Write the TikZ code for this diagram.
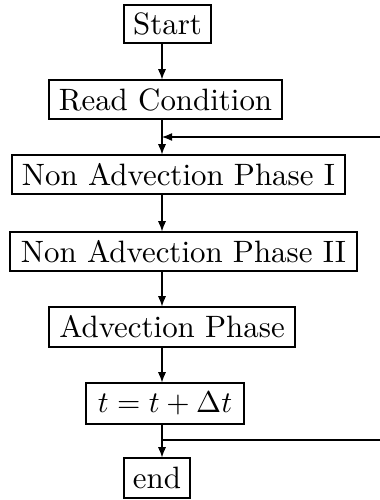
\documentclass[tikz,border=0pt]{standalone}
\usetikzlibrary{arrows.meta}
\newdimen\px \px=0.33333pt
\begin{document}
\begin{tikzpicture}[x=0.33333pt,y=-0.33333pt,
  box/.style={draw,inner sep=0pt,line width=0.38pt,font=\fontsize{10.3}{12}\selectfont},
  arr/.style={-{Latex[length=3.4pt,width=2.7pt]},line width=0.38pt},
  ln/.style={line width=0.38pt}]
\useasboundingbox (0,0) rectangle (380,500);
\coordinate (sx) at (162,0);
\node[box,minimum width=87\px,minimum height=38\px] (start) at (167.5,24) {Start};
\node[box,minimum width=233\px,minimum height=39\px] (read) at (165.5,99.5) {Read Condition};
\node[box,minimum width=333\px,minimum height=39\px] (nap1) at (178.5,174.5) {Non Advection Phase I};
\node[box,minimum width=347\px,minimum height=39\px] (nap2) at (183.5,251.5) {Non Advection Phase II};
\node[box,minimum width=246\px,minimum height=40\px] (adv) at (172,327) {Advection Phase};
\node[box,minimum width=158\px,minimum height=41\px] (upd) at (165,403.5) {$t=t+\Delta t$};
\node[box,minimum width=66\px,minimum height=40\px] (end) at (157,478) {end};
\coordinate (loopin) at (380,137);
\coordinate (loopout) at (380,440);
\draw[arr] (start.south -| sx) -- (read.north -| sx);
\draw[arr] (read.south -| sx) -- (nap1.north -| sx);
\draw[arr] (nap1.south -| sx) -- (nap2.north -| sx);
\draw[arr] (nap2.south -| sx) -- (adv.north -| sx);
\draw[arr] (adv.south -| sx) -- (upd.north -| sx);
\draw[arr] (upd.south -| sx) -- (end.north -| sx);
\draw[arr] (loopin) -- (loopin -| sx);
\draw[ln] (loopout -| sx) -- (loopout);
\end{tikzpicture}
\end{document}
